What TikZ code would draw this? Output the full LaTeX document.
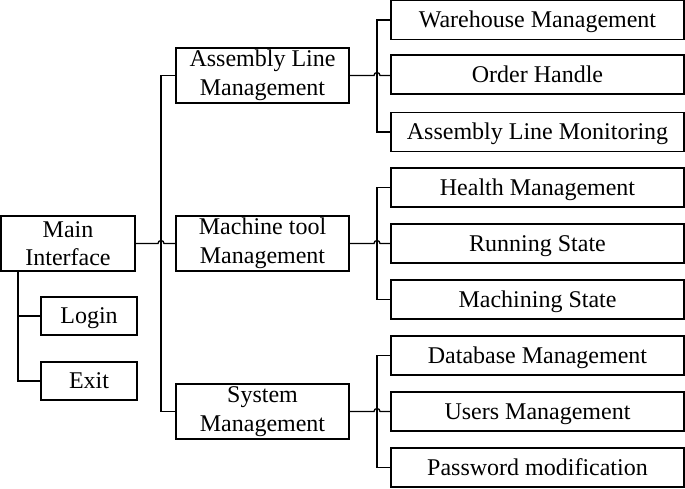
\documentclass[tikz,border=0pt]{standalone}
\usepackage{fontspec}
\setmainfont{Liberation Serif}
\begin{document}
\begin{tikzpicture}[x=1pt,y=-1pt,
  box/.style={draw,line width=1.3pt,rectangle,inner sep=0pt,align=center,
    font=\fontsize{24}{28.5}\selectfont},
  big/.style={box,minimum width=173pt,minimum height=55pt},
  leaf/.style={box,minimum width=293pt,minimum height=39pt,text height=15.5pt,text depth=0pt},
  small/.style={box,minimum width=96pt,minimum height=38pt,text height=14.5pt,text depth=0pt},
  conn/.style={line width=1.3pt}]
\useasboundingbox (0,0) rectangle (685,488);
\node[box,minimum width=134pt,minimum height=55pt] (main) at (68,243.5) {Main\\Interface};
\node[small] (login) at (89,316) {Login};
\node[small] (exit) at (89,381) {Exit};
\node[big] (asm) at (262.5,75.5) {Assembly Line\\Management};
\node[big] (mach) at (262.5,243.5) {Machine tool\\Management};
\node[big] (sys) at (262.5,411.5) {System\\Management};
\node[leaf] (wh) at (537.5,20) {Warehouse Management};
\node[leaf] (oh) at (537.5,74.5) {Order Handle};
\node[leaf] (alm) at (537.5,132) {Assembly Line Monitoring};
\node[leaf] (hm) at (537.5,187.5) {Health Management};
\node[leaf] (rs) at (537.5,243.5) {Running State};
\node[leaf] (ms) at (537.5,299.5) {Machining State};
\node[leaf] (dm) at (537.5,355.5) {Database Management};
\node[leaf] (um) at (537.5,411.5) {Users Management};
\node[leaf] (pm) at (537.5,467.5) {Password modification};
% main -> login / exit
\draw[conn] (18,271) |- (login.west);
\draw[conn] (18,271) |- (exit.west);
% trunk
\draw[conn] (asm.west) -| (161,243.5) |- (sys.west);
\draw[conn] (main.east) -- (158,243.5) arc[start angle=180,end angle=360,radius=3] -- (mach.west);
% assembly group
\draw[conn] (wh.west) -| (377,75.5) |- (alm.west);
\draw[conn] (asm.east) -- (374,75.5) arc[start angle=180,end angle=360,radius=3] -- (oh.west |- asm.east);
% machine group
\draw[conn] (hm.west) -| (377,243.5) |- (ms.west);
\draw[conn] (mach.east) -- (374,243.5) arc[start angle=180,end angle=360,radius=3] -- (rs.west);
% system group
\draw[conn] (dm.west) -| (377,411.5) |- (pm.west);
\draw[conn] (sys.east) -- (374,411.5) arc[start angle=180,end angle=360,radius=3] -- (um.west);
\end{tikzpicture}
\end{document}
